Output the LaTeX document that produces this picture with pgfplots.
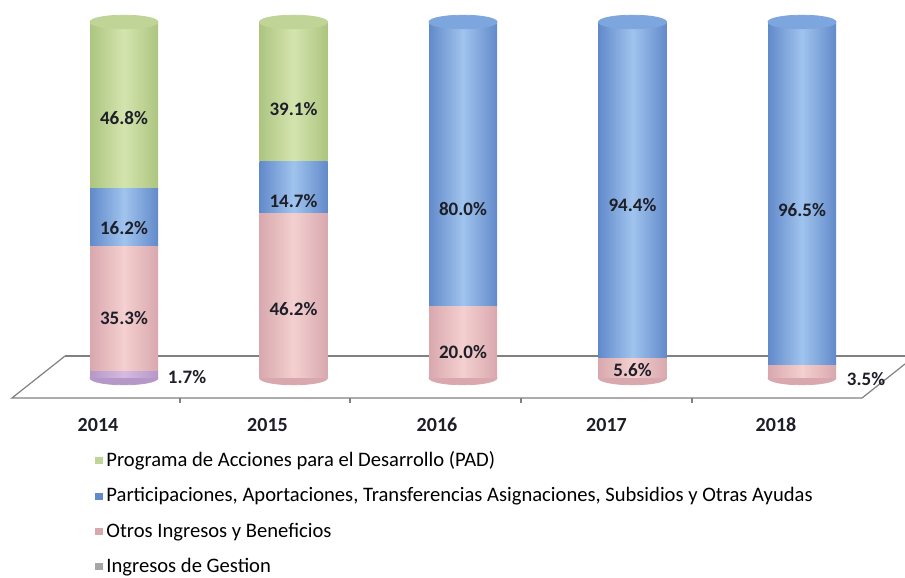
\documentclass[border=0pt]{standalone}
\usepackage{fontspec}
\setmainfont{Carlito}
\usepackage{pgfplots}
\usepackage{pgfplotstable}
\pgfplotsset{compat=1.18}

\definecolor{gL}{RGB}{212,228,174}
\definecolor{gD}{RGB}{172,197,128}
\definecolor{gC}{RGB}{192,212,152}
\definecolor{bL}{RGB}{160,196,238}
\definecolor{bD}{RGB}{98,138,202}
\definecolor{bC}{RGB}{126,166,222}
\definecolor{pL}{RGB}{244,208,208}
\definecolor{pD}{RGB}{216,168,174}
\definecolor{vL}{RGB}{214,186,224}
\definecolor{vD}{RGB}{182,152,200}
\definecolor{floorc}{RGB}{128,128,128}
\definecolor{lab}{RGB}{30,30,40}

\pgfplotstableread{
cat gest otros part pad
0 1.7 35.3 16.2 46.8
1 0 46.2 14.7 39.1
2 0 20.0 80.0 0
3 0 5.6 94.4 0
4 0 3.5 96.5 0
}\data

\pgfplotsset{base/.style={
  x=84.75pt, y=1.78pt, xmin=-0.72, xmax=4.62, ymin=-7.58, ymax=106,
  anchor=origin, at={(62pt,100pt)}, clip=false}}

\newcommand\cyl[1]{%
\begin{axis}[base, hide axis, ybar stacked, bar width=34pt,
  x filter/.expression={abs(x-#1)<0.1 ? x : nan}]
\addplot[draw=none, left color=vD, right color=vD, middle color=vL] table[x=cat,y=gest]{\data};
\addplot[draw=none, left color=pD, right color=pD, middle color=pL] table[x=cat,y=otros]{\data};
\addplot[draw=none, left color=bD, right color=bD, middle color=bL] table[x=cat,y=part]{\data};
\addplot[draw=none, left color=gD, right color=gD, middle color=gL] table[x=cat,y=pad]{\data};
\end{axis}}

\begin{document}
\begin{tikzpicture}
% floor and bottom ellipses
\begin{axis}[base, hide axis]
\draw[floorc, line width=0.6pt] (axis cs:-0.348,6.18) -- (axis cs:4.608,6.18);
\draw[floorc, line width=0.6pt] (axis cs:-0.348,6.18) -- (axis cs:-0.661,-5.62) -- (axis cs:4.354,-5.62) -- (axis cs:4.608,3.95);
\pgfplotsinvokeforeach{0.330,1.333,2.342,3.351}{
  \draw[floorc, line width=0.6pt] (axis cs:#1,-5.62) -- (axis cs:#1,-7.0);
}
\addplot[only marks, color=vD, mark=*, mark size=17pt, mark options={draw=none, fill=vD, yscale=0.2}] coordinates {(0,0)};
\addplot[only marks, color=pD, mark=*, mark size=17pt, mark options={draw=none, fill=pD, yscale=0.2}] coordinates {(1,0) (2,0) (3,0) (4,0)};
\end{axis}

% cylinders, one axis each so each bar gets its own shading
\cyl{0}\cyl{1}\cyl{2}\cyl{3}\cyl{4}

% caps and data labels
\begin{axis}[base, hide axis]
\addplot[only marks, color=gC, mark=*, mark size=17pt, mark options={draw=none, fill=gC, yscale=0.2}] coordinates {(0,100) (1,100)};
\addplot[only marks, color=bC, mark=*, mark size=17pt, mark options={draw=none, fill=bC, yscale=0.2}] coordinates {(2,100) (3,100) (4,100)};
\addplot[draw=none, mark=none, nodes near coords, point meta=explicit symbolic,
  nodes near coords align={center},
  every node near coord/.append style={font=\bfseries\fontsize{9.5}{11}\selectfont, text=lab, anchor=center}]
  coordinates {
  (0,73.0)[46.8\%] (0,42.1)[16.2\%] (0,16.9)[35.3\%] (0.372,0.3)[1.7\%]
  (1,75.6)[39.1\%] (1,49.7)[14.7\%] (1,19.4)[46.2\%]
  (2,47.5)[80.0\%] (2,7.3)[20.0\%]
  (3,48.6)[94.4\%] (3,2.2)[5.6\%]
  (4,47.2)[96.5\%] (4.378,-0.3)[3.5\%]
  };
\end{axis}

% category labels and legend
\begin{axis}[base,
  hide y axis, axis x line*=bottom, x axis line style={draw=none},
  xtick={0,1,2,3,4}, xticklabels={2014,2015,2016,2017,2018},
  xtick style={draw=none},
  xticklabel style={font=\bfseries\fontsize{10}{12}\selectfont, text=lab, xshift=-13pt, yshift=-3pt},
  legend cell align=left,
  legend style={draw=none, fill=none, at={(axis description cs:0.096,-0.094)}, anchor=north west,
    font=\fontsize{10.3}{12}\selectfont, row sep=5pt}]
\addlegendimage{legend image code/.code={\fill[gC] (0pt,-1.6pt) rectangle (3.2pt,1.6pt);}}
\addlegendentry{Programa de Acciones para el Desarrollo (PAD)}
\addlegendimage{legend image code/.code={\fill[bD] (0pt,-1.6pt) rectangle (3.2pt,1.6pt);}}
\addlegendentry{Participaciones, Aportaciones, Transferencias Asignaciones, Subsidios y Otras Ayudas}
\addlegendimage{legend image code/.code={\fill[pD] (0pt,-1.6pt) rectangle (3.2pt,1.6pt);}}
\addlegendentry{Otros Ingresos y Beneficios}
\addlegendimage{legend image code/.code={\fill[gray!70] (0pt,-1.6pt) rectangle (3.2pt,1.6pt);}}
\addlegendentry{Ingresos de Gestion}
\end{axis}
\pgfresetboundingbox
\path[use as bounding box] (0,0) rectangle (452.5pt,289pt);
\end{tikzpicture}
\end{document}
